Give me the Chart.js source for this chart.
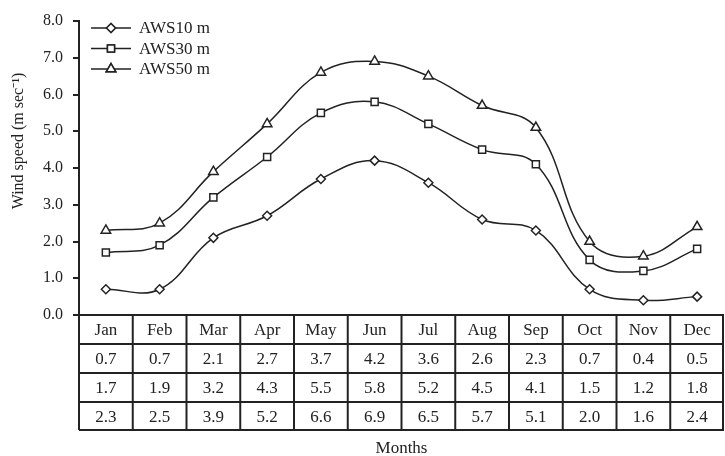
<!DOCTYPE html>
<html><head><meta charset="utf-8">
<script src="https://cdn.jsdelivr.net/npm/chart.js@4/dist/chart.umd.min.js"></script>
<style>html,body{margin:0;padding:0;background:#fff}#wrap{width:725px;height:456px;position:relative}</style>
</head><body><div id="wrap"><canvas id="c" width="725" height="456"></canvas></div>
<script>
const months = ["Jan","Feb","Mar","Apr","May","Jun","Jul","Aug","Sep","Oct","Nov","Dec"];
const aws10 = [0.7,0.7,2.1,2.7,3.7,4.2,3.6,2.6,2.3,0.7,0.4,0.5];
const aws30 = [1.7,1.9,3.2,4.3,5.5,5.8,5.2,4.5,4.1,1.5,1.2,1.8];
const aws50 = [2.3,2.5,3.9,5.2,6.6,6.9,6.5,5.7,5.1,2.0,1.6,2.4];
const seriesNames = ["AWS10 m","AWS30 m","AWS50 m"];
const yTicks = [0,1,2,3,4,5,6,7,8];
const yTitle = "Wind speed (m sec⁻¹)";
const xTitle = "Months";
const FONT = "'Liberation Serif', 'Times New Roman', serif";

const styles = ['rectRot','rect','triangle'];
const radii = [4.5,5,5.5];
const seriesData = [aws10, aws30, aws50];

const tablePlugin = {
  id:'tablePlugin',
  afterDraw(chart){
    const ctx = chart.ctx, x = chart.scales.x, ca = chart.chartArea;
    const rows = [months].concat(seriesData.map(s=>s.map(v=>v.toFixed(1))));
    const top = ca.bottom, rh = 29;
    const colW = (ca.right - ca.left)/months.length;
    ctx.save();
    ctx.strokeStyle='#222'; ctx.lineWidth=2;
    for(let r=0;r<=rows.length;r++){
      const y = top + r*rh - (r===rows.length?1:0);
      ctx.beginPath(); ctx.moveTo(ca.left-(r===0?6:0), y); ctx.lineTo(ca.right, y); ctx.stroke();
    }
    for(let c=0;c<=months.length;c++){
      let xx = ca.left + c*colW; if(c===months.length) xx-=1;
      ctx.beginPath(); ctx.moveTo(xx, top); ctx.lineTo(xx, top+rows.length*rh-1); ctx.stroke();
    }
    ctx.fillStyle='#222'; ctx.font = "17px "+FONT; ctx.textAlign='center'; ctx.textBaseline='middle';
    rows.forEach((row,r)=>{
      row.forEach((t,c)=>{
        ctx.fillText(t, x.getPixelForValue(c), top + r*rh + rh/2+1);
      });
    });
    ctx.font = "17px "+FONT;
    ctx.fillText(xTitle, (ca.left+ca.right)/2, top + rows.length*rh + 18);
    // y title
    ctx.save();
    ctx.translate(19, 141); ctx.rotate(-Math.PI/2);
    ctx.font = "16px "+FONT; ctx.fillText(yTitle, 0, 0);
    ctx.restore();
    ctx.lineWidth=1.5; ctx.font="17px "+FONT; ctx.textAlign='left';
    seriesNames.forEach((n,i)=>{
      const y = 28 + i*20.5;
      ctx.beginPath(); ctx.moveTo(91,y); ctx.lineTo(131,y); ctx.stroke();
      Chart.helpers.drawPoint(ctx,{pointStyle:styles[i],radius:radii[i],rotation:0,borderWidth:1.5},111,y);
      ctx.fillStyle='#fff'; ctx.fill(); ctx.stroke(); ctx.fillStyle='#222';
      ctx.fillText(n, 139, y+1);
    });
    ctx.restore();
  }
};

new Chart(document.getElementById('c'),{
  type:'line',
  data:{labels:months, datasets: seriesData.map((d,i)=>({
    label:seriesNames[i], data:d, borderColor:'#222', borderWidth:1.5,
    pointStyle:styles[i], pointRadius:radii[i], pointBackgroundColor:'#fff',
    pointBorderColor:'#222', pointBorderWidth:1.5, tension:0.4, fill:false
  }))},
  options:{
    responsive:false, animation:false,
    layout:{autoPadding:false, padding:{top:21,right:1,bottom:141,left:0}},
    plugins:{legend:{display:false}, tooltip:{enabled:false}},
    scales:{
      x:{display:false, offset:true},
      y:{min:0,max:8,
        afterFit(s){ s.width = 79; },
        afterBuildTicks(s){ s.ticks = yTicks.map(v=>({value:v})); },
        border:{display:true,color:'#222',width:2},
        grid:{display:true, drawOnChartArea:false, drawTicks:true, tickLength:6, color:'#222', lineWidth:2},
        ticks:{color:'#222', font:{family:FONT,size:16}, padding:10, callback:v=>v.toFixed(1)},
        title:{display:false}
      }
    }
  },
  plugins:[tablePlugin]
});
</script></body></html>
